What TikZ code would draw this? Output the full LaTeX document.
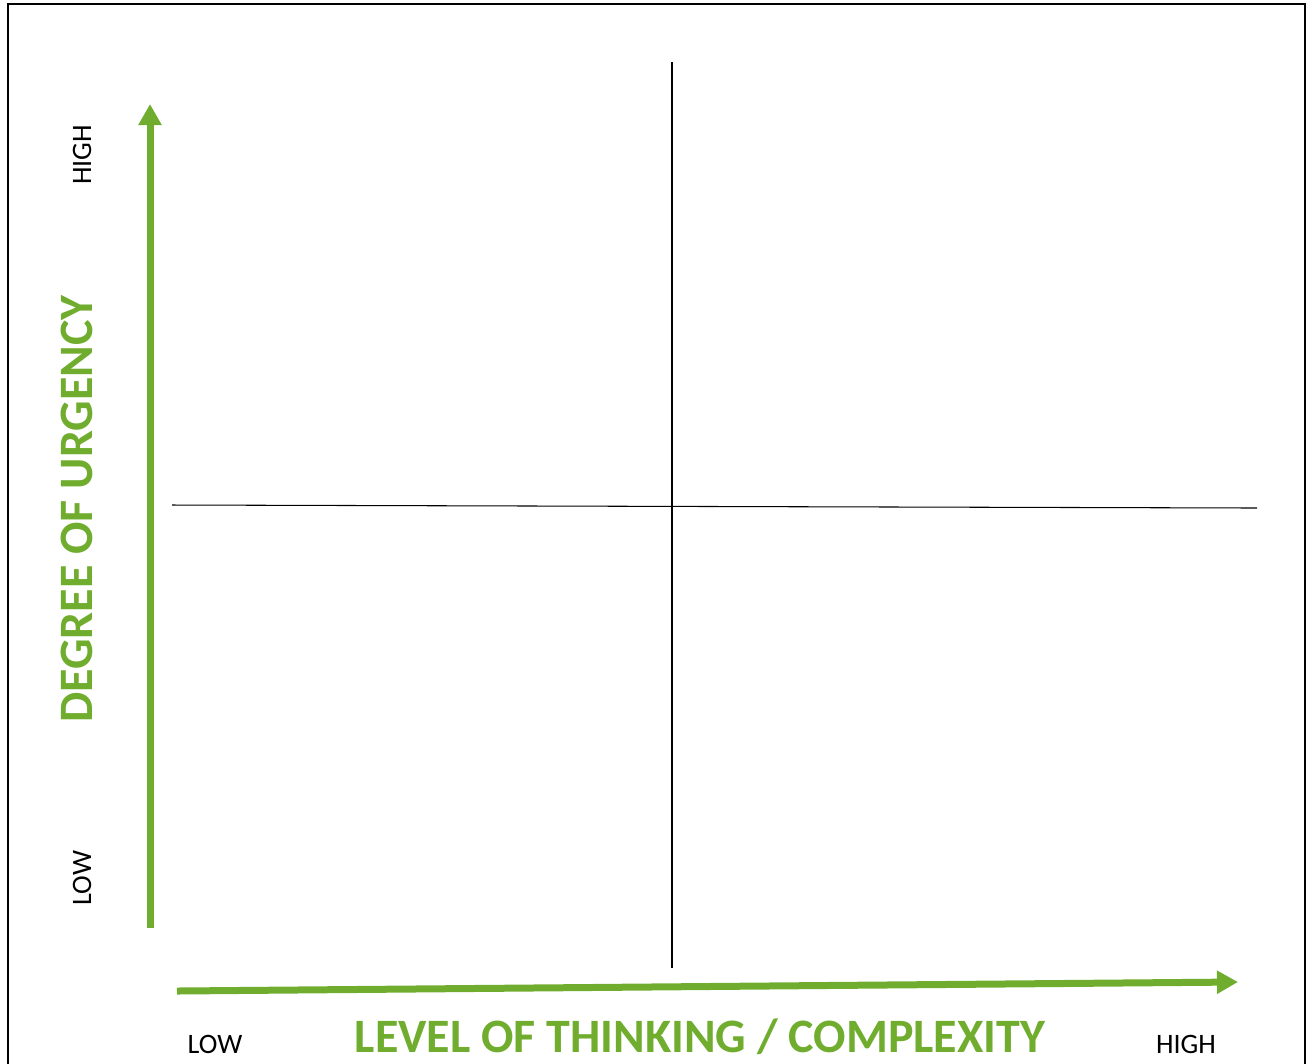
\documentclass[tikz,border=0pt]{standalone}
\usepackage{fontspec}
\setmainfont{Carlito}
\usetikzlibrary{arrows.meta, positioning}

\definecolor{axisgreen}{RGB}{112,173,47}

\tikzset{
    axisarrow/.style = {draw=axisgreen, line width=0.14cm,
        -{Triangle[width=0.44cm, length=0.42cm]}},
    divider/.style = {draw=black, line width=0.6pt},
    ticklabel/.style = {font=\fontsize{16}{18}\selectfont, text=black, inner sep=0pt},
    axistitle/.style = {font=\fontsize{27.3}{30}\selectfont\bfseries, text=axisgreen, inner sep=0pt}
}

\begin{document}
\begin{tikzpicture}[x=0.02cm, y=-0.02cm]
    \useasboundingbox (0,0) rectangle (1307,1063);
    % outer frame, bottom edge runs off the page
    \draw[line width=1.6pt] (8,4) rectangle (1305,1080);

    % quadrant dividers
    \coordinate (vtop) at (672,62);
    \coordinate (vbot) at (672,968);
    \coordinate (hleft) at (172,505);
    \coordinate (hright) at (1257,508);
    \draw[divider] (vtop) -- (vbot);
    \draw[divider] (hleft) -- (hright);

    % axes
    \coordinate (yfrom) at (150,928);
    \coordinate (yto) at (150,104);
    \coordinate (xfrom) at (177,991);
    \coordinate (xto) at (1238,982);
    \draw[axisarrow] (yfrom) -- (yto);
    \draw[axisarrow] (xfrom) -- (xto);

    % vertical axis labels
    \node[ticklabel, rotate=90] (yhigh) at (82,155) {HIGH};
    \node[ticklabel, rotate=90] (ylow) at (82,878) {LOW};
    \node[axistitle, rotate=90] (ytitle) at (77,509) {DEGREE OF URGENCY};

    % horizontal axis labels
    \node[ticklabel] (xlow) at (215,1044) {LOW};
    \node[ticklabel] (xhigh) at (1186,1044) {HIGH};
    \node[axistitle] (xtitle) at (700,1037) {LEVEL OF THINKING / COMPLEXITY};
\end{tikzpicture}
\end{document}
